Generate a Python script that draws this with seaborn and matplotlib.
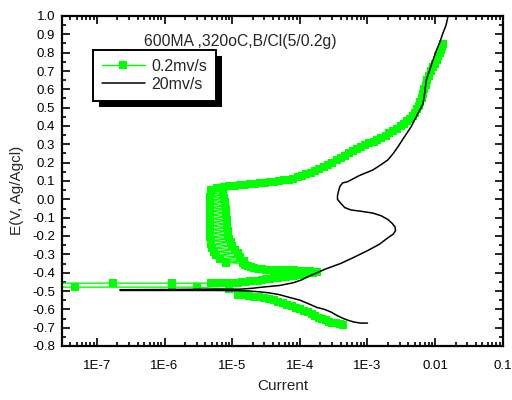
import matplotlib
matplotlib.use('Agg')
import matplotlib.pyplot as plt
import matplotlib.ticker as mticker
from matplotlib.patches import Rectangle
import numpy as np
import pandas as pd
import seaborn as sns

# 0.2 mV/s scan (green squares), read branch by branch: potential (V), current (A)
green_cath_E = [-0.685, -0.68, -0.676, -0.672, -0.667, -0.66, -0.653, -0.645, -0.635,
                -0.626, -0.617, -0.608, -0.60, -0.592, -0.584, -0.575, -0.566, -0.558,
                -0.55, -0.545, -0.54, -0.535, -0.53, -0.527, -0.524, -0.522, -0.52]
green_cath_I = [4.4e-4, 3.9e-4, 3.4e-4, 3.0e-4, 2.7e-4, 2.4e-4, 2.15e-4, 1.9e-4, 1.7e-4,
                1.5e-4, 1.3e-4, 1.15e-4, 1.0e-4, 8.8e-5, 7.6e-5, 6.5e-5, 5.6e-5, 4.8e-5,
                4.1e-5, 3.5e-5, 3.0e-5, 2.5e-5, 2.1e-5, 1.8e-5, 1.55e-5, 1.35e-5, 1.2e-5]

green_corr_E = [-0.49, -0.479, -0.479, -0.479, -0.478, -0.457, -0.457, -0.457, -0.457]
green_corr_I = [9e-6, 3e-6, 1.3e-6, 4.7e-8, 1e-8, 1e-8, 1.7e-7, 1.3e-6, 4.8e-6]

green_rise_E = [-0.457, -0.457, -0.457, -0.457, -0.456, -0.455, -0.454, -0.452, -0.45,
                -0.448, -0.446, -0.443, -0.44, -0.437, -0.434, -0.431, -0.428, -0.425,
                -0.422, -0.419, -0.416, -0.413, -0.41, -0.407, -0.404, -0.401, -0.398]
green_rise_I = [5.5e-6, 6.3e-6, 7.2e-6, 8.2e-6, 9.4e-6, 1.07e-5, 1.22e-5, 1.4e-5, 1.6e-5,
                1.85e-5, 2.1e-5, 2.4e-5, 2.75e-5, 3.15e-5, 3.6e-5, 4.1e-5, 4.7e-5, 5.4e-5,
                6.2e-5, 7.1e-5, 8.1e-5, 9.3e-5, 1.06e-4, 1.2e-4, 1.38e-4, 1.58e-4, 1.8e-4]

green_back_E = [-0.394, -0.392, -0.391, -0.39, -0.389, -0.388, -0.388, -0.387, -0.387,
                -0.386, -0.385, -0.384, -0.383, -0.381, -0.378, -0.374, -0.369, -0.363,
                -0.356, -0.349]
green_back_I = [1.6e-4, 1.4e-4, 1.22e-4, 1.07e-4, 9.3e-5, 8.1e-5, 7.1e-5, 6.2e-5, 5.4e-5,
                4.7e-5, 4.1e-5, 3.6e-5, 3.15e-5, 2.75e-5, 2.4e-5, 2.1e-5, 1.9e-5, 1.7e-5,
                1.55e-5, 1.42e-5]

# passive region: the current jumps between the two edges of the band
green_pass_E = [-0.345, -0.335, -0.325, -0.315, -0.305, -0.295, -0.285, -0.275, -0.265,
                -0.255, -0.245, -0.235, -0.225, -0.215, -0.205, -0.195, -0.185, -0.175,
                -0.165, -0.155, -0.145, -0.135, -0.125, -0.115, -0.105, -0.095, -0.085,
                -0.075, -0.065, -0.055, -0.045, -0.035, -0.025, -0.015, -0.005, 0.005,
                0.015, 0.025, 0.035, 0.045, 0.05]
green_pass_I = [8e-6, 1.5e-5, 6.5e-6, 1.3e-5, 5.8e-6, 1.2e-5, 5.3e-6, 1.1e-5, 5e-6,
                1.0e-5, 4.8e-6, 9.5e-6, 4.8e-6, 9e-6, 4.7e-6, 8.8e-6, 4.7e-6, 8.6e-6,
                4.7e-6, 8.5e-6, 4.7e-6, 8.4e-6, 4.7e-6, 8.3e-6, 4.7e-6, 8.2e-6, 4.7e-6,
                8.1e-6, 4.7e-6, 8e-6, 4.7e-6, 7.9e-6, 4.7e-6, 7.8e-6, 4.7e-6, 7.6e-6,
                4.7e-6, 7.4e-6, 4.8e-6, 7.2e-6, 4.8e-6]

green_anod_E = [0.06, 0.065, 0.07, 0.075, 0.078, 0.08, 0.082, 0.085, 0.088, 0.09, 0.093,
                0.096, 0.10, 0.104, 0.108, 0.113, 0.12, 0.128, 0.137, 0.146, 0.155,
                0.165, 0.176, 0.188, 0.20, 0.212, 0.225, 0.238, 0.25, 0.262, 0.273,
                0.284, 0.295, 0.305, 0.315, 0.325, 0.336, 0.348, 0.36, 0.372, 0.385,
                0.398, 0.41, 0.425, 0.44, 0.455, 0.47, 0.49, 0.51, 0.53, 0.55, 0.575,
                0.60, 0.625, 0.65, 0.675, 0.70, 0.72, 0.74, 0.76, 0.78, 0.80, 0.815,
                0.83, 0.845]
green_anod_I = [6e-6, 7.5e-6, 9e-6, 1.1e-5, 1.3e-5, 1.55e-5, 1.85e-5, 2.2e-5, 2.6e-5,
                3.1e-5, 3.6e-5, 4.2e-5, 5e-5, 5.8e-5, 6.8e-5, 8e-5, 9.3e-5, 1.08e-4,
                1.25e-4, 1.45e-4, 1.68e-4, 1.95e-4, 2.25e-4, 2.6e-4, 3.0e-4, 3.5e-4,
                4.0e-4, 4.6e-4, 5.3e-4, 6.1e-4, 7e-4, 8.1e-4, 9.3e-4, 1.07e-3, 1.23e-3,
                1.4e-3, 1.6e-3, 1.85e-3, 2.1e-3, 2.4e-3, 2.75e-3, 3.15e-3, 3.5e-3, 3.9e-3,
                4.3e-3, 4.65e-3, 5.0e-3, 5.4e-3, 5.75e-3, 6.05e-3, 6.3e-3, 6.6e-3, 6.95e-3,
                7.3e-3, 7.6e-3, 8.0e-3, 8.6e-3, 9.3e-3, 9.9e-3, 1.05e-2, 1.11e-2, 1.17e-2,
                1.23e-2, 1.28e-2, 1.32e-2]

# 20 mV/s scan (black line)
black_E = [
    -0.675, -0.675, -0.67, -0.66, -0.65, -0.635, -0.615, -0.60, -0.59, -0.57,
    -0.55, -0.535, -0.52, -0.51, -0.505, -0.50, -0.498, -0.497, -0.497, -0.497,
    -0.493, -0.492, -0.49, -0.49, -0.485, -0.48, -0.47, -0.455, -0.44, -0.42,
    -0.40, -0.38, -0.35, -0.32, -0.28, -0.245, -0.21, -0.19, -0.17, -0.15,
    -0.13, -0.11, -0.09, -0.075, -0.065, -0.058, -0.045, -0.02, 0.0, 0.02,
    0.04, 0.07, 0.09, 0.095, 0.13, 0.16, 0.19, 0.215, 0.25, 0.285, 0.34,
    0.395, 0.47, 0.52, 0.58, 0.65, 0.705, 0.76, 0.815, 0.86, 0.905, 0.95, 1.0,
]
black_I = [
    1.0e-3, 8e-4, 6.4e-4, 5.2e-4, 4.4e-4, 3.6e-4, 2.9e-4, 2.3e-4, 1.8e-4, 1.35e-4,
    1.0e-4, 7e-5, 5e-5, 3.5e-5, 2.6e-5, 1.8e-5, 1.2e-5, 5e-6, 1e-6, 2.2e-7,
    2.2e-7, 1e-6, 5e-6, 1.3e-5, 2e-5, 2.6e-5, 5e-5, 8e-5, 1.05e-4, 1.35e-4,
    1.8e-4, 2.4e-4, 4e-4, 6e-4, 1.0e-3, 1.5e-3, 2e-3, 2.4e-3, 2.6e-3, 2.55e-3,
    2.3e-3, 2.0e-3, 1.6e-3, 1.2e-3, 8e-4, 5.7e-4, 4.6e-4, 4e-4, 3.6e-4, 3.6e-4,
    3.7e-4, 3.9e-4, 4.3e-4, 5e-4, 7.6e-4, 1.2e-3, 1.6e-3, 2e-3, 2.4e-3, 2.8e-3,
    3.5e-3, 4.4e-3, 5.6e-3, 6.6e-3, 7e-3, 7.4e-3, 8.3e-3, 9.3e-3, 1.05e-2, 1.18e-2,
    1.3e-2, 1.45e-2, 1.55e-2,
]

x_ticks = [1e-7, 1e-6, 1e-5, 1e-4, 1e-3, 1e-2, 1e-1]
x_labels = ['1E-7', '1E-6', '1E-5', '1E-4', '1E-3', '0.01', '0.1']
y_ticks = [-0.8, -0.7, -0.6, -0.5, -0.4, -0.3, -0.2, -0.1, 0.0,
           0.1, 0.2, 0.3, 0.4, 0.5, 0.6, 0.7, 0.8, 0.9, 1.0]
y_labels = ['%.1f' % v for v in y_ticks]

sns.set_style('ticks')
plt.rcParams['font.family'] = ['Liberation Sans', 'DejaVu Sans']

green_E = green_cath_E + green_corr_E + green_rise_E + green_back_E + green_pass_E + green_anod_E
green_I = green_cath_I + green_corr_I + green_rise_I + green_back_I + green_pass_I + green_anod_I
slow = pd.DataFrame({'E': green_E, 'I': green_I})
fast = pd.DataFrame({'E': black_E, 'I': black_I})

fig = plt.figure(figsize=(5.12, 4.0), dpi=100)
ax = fig.add_axes([0.121, 0.135, 0.861, 0.825])

sns.lineplot(data=slow, x='I', y='E', sort=False, estimator=None, ax=ax,
             color='#00ff00', lw=1.0, marker='s', markersize=5.5,
             markeredgewidth=0, label='0.2mv/s')
sns.lineplot(data=fast, x='I', y='E', sort=False, estimator=None, ax=ax,
             color='black', lw=1.1, label='20mv/s')

ax.set_xscale('log')
ax.set_xlim(3.04e-8, 0.1)
ax.set_ylim(-0.8, 1.0)
ax.xaxis.set_major_locator(mticker.FixedLocator(x_ticks))
ax.xaxis.set_major_formatter(mticker.FixedFormatter(x_labels))
ax.xaxis.set_minor_locator(mticker.LogLocator(base=10, subs=np.arange(2, 10)))
ax.xaxis.set_minor_formatter(mticker.NullFormatter())
ax.yaxis.set_major_locator(mticker.FixedLocator(y_ticks))
ax.yaxis.set_major_formatter(mticker.FixedFormatter(y_labels))
ax.yaxis.set_minor_locator(mticker.MultipleLocator(0.05))

ax.tick_params(which='both', direction='in', top=True, right=True,
               labelsize=9.5, width=1.2, colors='black')
ax.tick_params(which='major', length=6)
ax.tick_params(which='minor', length=3)
ax.tick_params(axis='x', which='major', pad=10)
ax.tick_params(axis='y', which='major', pad=5)
for s in ax.spines.values():
    s.set_linewidth(1.6)
    s.set_color('black')

ax.set_xlabel('Current', fontsize=11, labelpad=5)
ax.set_ylabel('E(V, Ag/Agcl)', fontsize=11)
ax.yaxis.set_label_coords(-0.086, 0.473)

ax.text(0.186, 0.922, '600MA ,320oC,B/Cl(5/0.2g)', transform=ax.transAxes,
        fontsize=11.3, va='center', ha='left')

leg = ax.legend(loc='upper left', bbox_to_anchor=(0.07, 0.897), borderaxespad=0,
                fontsize=11.5, handlelength=2.7, handletextpad=0.4,
                frameon=True, fancybox=False, edgecolor='black', framealpha=1,
                borderpad=0.55, labelspacing=0.2, markerscale=1.05)
leg.get_frame().set_linewidth(1.4)

# black drop shadow behind the legend box, shifted down-right by a few pixels
fig.canvas.draw()
bb = leg.get_window_extent().transformed(ax.transAxes.inverted())
dx = 6 / (0.861 * 512)
dy = 6 / (0.825 * 400)
shadow = Rectangle((bb.x0 + dx, bb.y0 - dy), bb.width, bb.height,
                   transform=ax.transAxes, facecolor='black',
                   edgecolor='none', zorder=4.5, clip_on=False)
ax.add_patch(shadow)
ax.set_xlim(3.04e-8, 0.1)
ax.set_ylim(-0.8, 1.0)

fig.savefig('out.png', dpi=100)
